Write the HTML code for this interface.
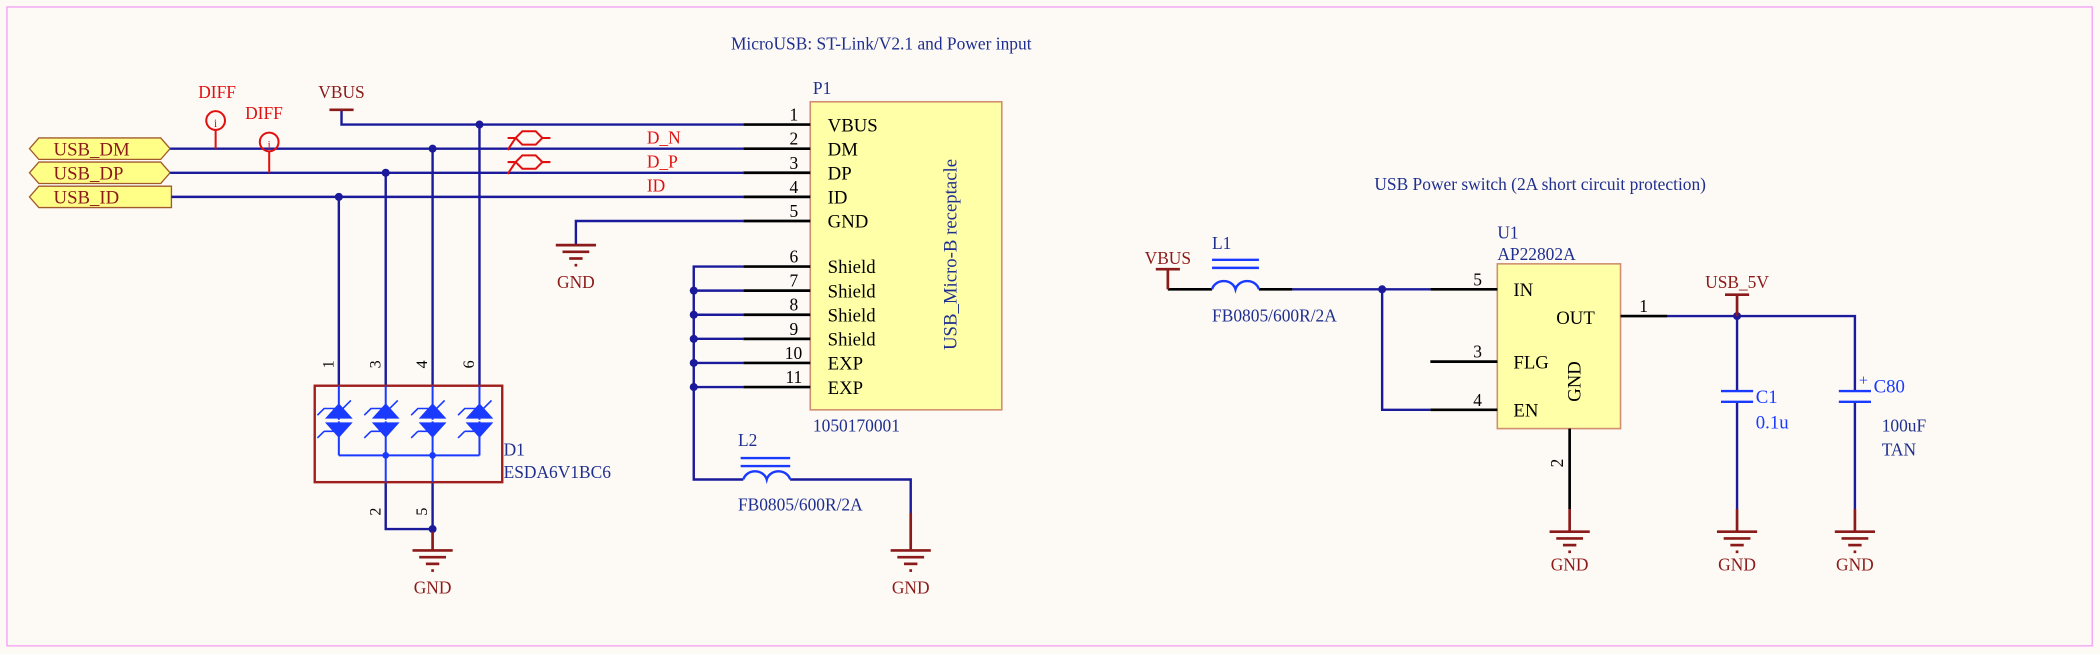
<!DOCTYPE html>
<html><head><meta charset="utf-8"><style>
html,body{margin:0;padding:0;background:#fdfaf5;}
svg{display:block}
text{font-family:"Liberation Serif",serif;}
</style></head><body>
<svg width="2100" height="654" viewBox="0 0 1568 488.3" preserveAspectRatio="none" xmlns="http://www.w3.org/2000/svg">
<defs>
<g id="gnd" stroke="#8b1a1a" stroke-width="2">
<line x1="-15" y1="0" x2="15" y2="0"/><line x1="-10" y1="5" x2="10" y2="5"/>
<line x1="-5" y1="10" x2="5" y2="10"/><line x1="-1" y1="15" x2="1" y2="15"/>
</g>
</defs>
<rect x="0" y="0" width="1568" height="488.3" fill="#fdfaf5"/>
<rect x="5.2" y="5.2" width="1557" height="477" fill="none" stroke="#f4a0f4" stroke-width="1"/>

<g fill="#1f2f8f" font-size="13">
<text x="658" y="37" text-anchor="middle">MicroUSB: ST-Link/V2.1 and Power input</text>
<text x="1150" y="142" text-anchor="middle">USB Power switch (2A short circuit protection)</text>
</g>

<g stroke="#a05a2c" stroke-width="1" fill="#ffff88">
<polygon points="22,111 29,103 120,103 127,111 120,119 29,119"/>
<polygon points="22,129 29,121 120,121 127,129 120,137 29,137"/>
<polygon points="22,147 29,139 128,139 128,155 29,155"/>
</g>
<g fill="#8b1a1a" font-size="14">
<text x="40" y="116">USB_DM</text>
<text x="40" y="134">USB_DP</text>
<text x="40" y="152">USB_ID</text>
</g>

<rect x="605" y="76" width="143" height="230" fill="#ffffa8" stroke="#d09070" stroke-width="1.2"/>
<g stroke="#000" stroke-width="2">
<line x1="555" y1="93" x2="605" y2="93"/><line x1="555" y1="111" x2="605" y2="111"/>
<line x1="555" y1="129" x2="605" y2="129"/><line x1="555" y1="147" x2="605" y2="147"/>
<line x1="555" y1="165" x2="605" y2="165"/><line x1="555" y1="199" x2="605" y2="199"/>
<line x1="555" y1="217" x2="605" y2="217"/><line x1="555" y1="235" x2="605" y2="235"/>
<line x1="555" y1="253" x2="605" y2="253"/><line x1="555" y1="271" x2="605" y2="271"/>
<line x1="555" y1="289" x2="605" y2="289"/>
</g>
<g fill="#000" font-size="13" text-anchor="end">
<text x="596" y="90">1</text><text x="596" y="108">2</text><text x="596" y="126">3</text>
<text x="596" y="144">4</text><text x="596" y="162">5</text><text x="596" y="196">6</text>
<text x="596" y="214">7</text><text x="596" y="232">8</text><text x="596" y="250">9</text>
<text x="599" y="268">10</text><text x="599" y="286">11</text>
</g>
<g fill="#000" font-size="14">
<text x="618" y="98">VBUS</text><text x="618" y="116">DM</text><text x="618" y="134">DP</text>
<text x="618" y="152">ID</text><text x="618" y="170">GND</text>
<text x="618" y="204">Shield</text><text x="618" y="222">Shield</text><text x="618" y="240">Shield</text>
<text x="618" y="258">Shield</text><text x="618" y="276">EXP</text><text x="618" y="294">EXP</text>
</g>
<text x="0" y="0" font-size="14" fill="#1f2f8f" text-anchor="middle" transform="translate(714,190) rotate(-90)">USB_Micro-B receptacle</text>
<text x="607" y="70" font-size="13" fill="#1f2f8f">P1</text>
<text x="607" y="322" font-size="13" fill="#1f2f8f">1050170001</text>

<g stroke="#1a1a9a" stroke-width="1.8" fill="none">
<polyline points="255,82 255,93 555,93"/>
<line x1="127" y1="111" x2="555" y2="111"/>
<line x1="127" y1="129" x2="555" y2="129"/>
<line x1="128" y1="147" x2="555" y2="147"/>
<polyline points="430,183 430,165 555,165"/>
<line x1="358" y1="93" x2="358" y2="288"/>
<line x1="323" y1="111" x2="323" y2="288"/>
<line x1="288" y1="129" x2="288" y2="288"/>
<line x1="253" y1="147" x2="253" y2="288"/>
<polyline points="555,199 518,199 518,358 555,358"/>
<line x1="518" y1="217" x2="555" y2="217"/><line x1="518" y1="235" x2="555" y2="235"/>
<line x1="518" y1="253" x2="555" y2="253"/><line x1="518" y1="271" x2="555" y2="271"/>
<line x1="518" y1="289" x2="555" y2="289"/>
<polyline points="590,358 680,358 680,383"/>
<polyline points="288,360 288,395 323,395 323,360"/>
</g>
<g fill="#1a1a9a">
<circle cx="358" cy="93" r="3"/><circle cx="323" cy="111" r="3"/><circle cx="288" cy="129" r="3"/>
<circle cx="253" cy="147" r="3"/><circle cx="518" cy="217" r="3"/><circle cx="518" cy="235" r="3"/>
<circle cx="518" cy="253" r="3"/><circle cx="518" cy="271" r="3"/><circle cx="518" cy="289" r="3"/>
<circle cx="323" cy="395" r="3"/>
</g>

<line x1="246" y1="82" x2="264" y2="82" stroke="#8b1a1a" stroke-width="2"/>
<text x="255" y="73" font-size="13" fill="#8b1a1a" text-anchor="middle">VBUS</text>

<g stroke="#e01010" stroke-width="1.5" fill="none">
<circle cx="161" cy="90" r="7"/><line x1="161" y1="97" x2="161" y2="111"/>
<circle cx="201" cy="106" r="7"/><line x1="201" y1="113" x2="201" y2="129"/>
<path d="M385,103 l5,-5 h10 l5,5 h6 M385,103 h-6 M385,103 l5,5 h10 l5,-5 M379,112 l6,-9"/>
<path d="M385,121 l5,-5 h10 l5,5 h6 M385,121 h-6 M385,121 l5,5 h10 l5,-5 M379,130 l6,-9"/>
</g>
<g fill="#e01010" font-size="13">
<text x="148" y="73">DIFF</text><text x="183" y="89">DIFF</text>
<text x="161" y="95" font-size="9" text-anchor="middle">i</text>
<text x="201" y="111" font-size="9" text-anchor="middle">i</text>
<text x="483" y="107">D_N</text><text x="483" y="125">D_P</text><text x="483" y="143">ID</text>
</g>

<rect x="235" y="288" width="140" height="72" fill="none" stroke="#a02020" stroke-width="1.8"/>
<g stroke="#1a3aff" stroke-width="1.5" fill="none">
<line x1="253" y1="288" x2="253" y2="340"/><line x1="288" y1="288" x2="288" y2="360"/>
<line x1="323" y1="288" x2="323" y2="360"/><line x1="358" y1="288" x2="358" y2="340"/>
<line x1="253" y1="340" x2="358" y2="340"/>
</g>
<g fill="#1a3aff" stroke="#1a3aff" stroke-width="1.2">
<g id="dd"><polygon points="244,312 262,312 253,302"/><polygon points="244,316 262,316 253,326"/>
<line x1="243" y1="314" x2="263" y2="314" stroke="#fdfaf5"/>
<path d="M237,310 l5,-5 h14 l6,-6 M242,322 h14 l6,-6 M237,327 l5,-5" fill="none"/></g>
<use href="#dd" x="35"/><use href="#dd" x="70"/><use href="#dd" x="105"/>
</g>
<g fill="#1a3aff"><circle cx="288" cy="340" r="2.5"/><circle cx="323" cy="340" r="2.5"/></g>
<g font-size="12" fill="#000">
<text transform="translate(249,275) rotate(-90)">1</text><text transform="translate(284,275) rotate(-90)">3</text>
<text transform="translate(319,275) rotate(-90)">4</text><text transform="translate(354,275) rotate(-90)">6</text>
<text transform="translate(284,385) rotate(-90)">2</text><text transform="translate(319,385) rotate(-90)">5</text>
</g>
<g fill="#1f2f8f" font-size="13"><text x="376" y="340">D1</text><text x="376" y="357">ESDA6V1BC6</text></g>

<g stroke="#1a3aff" stroke-width="1.8" fill="none">
<line x1="553" y1="342" x2="590" y2="342"/><line x1="553" y1="348" x2="590" y2="348"/>
<path d="M555,358 a9,8 0 0 1 17.5,0 a9,8 0 0 1 17.5,0"/>
</g>
<g fill="#1f2f8f" font-size="13"><text x="551" y="333">L2</text><text x="551" y="381">FB0805/600R/2A</text></g>

<use href="#gnd" x="430" y="183"/>
<g stroke="#8b1a1a" stroke-width="2"><line x1="323" y1="397" x2="323" y2="411"/><line x1="680" y1="383" x2="680" y2="411"/></g>
<use href="#gnd" x="323" y="411"/><use href="#gnd" x="680" y="411"/>
<g fill="#8b1a1a" font-size="13" text-anchor="middle">
<text x="430" y="215">GND</text><text x="323" y="443">GND</text><text x="680" y="443">GND</text>
<text x="1172" y="426">GND</text><text x="1297" y="426">GND</text><text x="1385" y="426">GND</text>
</g>

<rect x="1118" y="197" width="92" height="123" fill="#ffffa8" stroke="#d09070" stroke-width="1.2"/>
<g stroke="#000" stroke-width="2">
<line x1="1068" y1="216" x2="1118" y2="216"/><line x1="1068" y1="270" x2="1118" y2="270"/>
<line x1="1068" y1="306" x2="1118" y2="306"/><line x1="1210" y1="236" x2="1245" y2="236"/>
<line x1="1172" y1="320" x2="1172" y2="380"/><line x1="872" y1="216" x2="905" y2="216"/>
<line x1="940" y1="216" x2="965" y2="216"/>
</g>
<g stroke="#1a1a9a" stroke-width="1.8" fill="none">
<line x1="965" y1="216" x2="1068" y2="216"/>
<polyline points="1032,216 1032,306 1068,306"/>
<polyline points="1245,236 1385,236 1385,292"/>
<line x1="1297" y1="236" x2="1297" y2="292"/>
<line x1="1297" y1="300" x2="1297" y2="380"/>
<line x1="1385" y1="300" x2="1385" y2="380"/>
</g>
<g fill="#1a1a9a"><circle cx="1032" cy="216" r="3"/><circle cx="1297" cy="236" r="3"/></g>
<g stroke="#8b1a1a" stroke-width="2">
<polyline points="872,216 872,201" fill="none"/><line x1="863" y1="201" x2="881" y2="201"/>
<line x1="1297" y1="220" x2="1297" y2="236"/><line x1="1288" y1="220" x2="1306" y2="220"/>
<line x1="1172" y1="380" x2="1172" y2="397"/><line x1="1297" y1="380" x2="1297" y2="397"/>
<line x1="1385" y1="380" x2="1385" y2="397"/>
</g>
<use href="#gnd" x="1172" y="397"/><use href="#gnd" x="1297" y="397"/><use href="#gnd" x="1385" y="397"/>
<g fill="#8b1a1a" font-size="13" text-anchor="middle">
<text x="872" y="197">VBUS</text><text x="1297" y="215">USB_5V</text>
</g>
<g stroke="#1a3aff" stroke-width="1.8" fill="none">
<line x1="905" y1="194" x2="940" y2="194"/><line x1="905" y1="200" x2="940" y2="200"/>
<path d="M905,216 a9,8 0 0 1 17.5,0 a9,8 0 0 1 17.5,0"/>
<line x1="1285" y1="292" x2="1309" y2="292"/><line x1="1285" y1="300" x2="1309" y2="300"/>
<line x1="1373" y1="292" x2="1397" y2="292"/><line x1="1373" y1="300" x2="1397" y2="300"/>
</g>
<g fill="#1f2f8f" font-size="13">
<text x="905" y="186">L1</text><text x="905" y="240">FB0805/600R/2A</text>
<text x="1118" y="178">U1</text><text x="1118" y="194">AP22802A</text>
<text x="1405" y="322">100uF</text><text x="1405" y="340">TAN</text>
</g>
<g fill="#1a3aff" font-size="14">
<text x="1311" y="301">C1</text><text x="1311" y="320">0.1u</text>
<text x="1399" y="293">C80</text><text x="1388" y="288" font-size="12">+</text>
</g>
<g fill="#000" font-size="13">
<text x="1100" y="213">5</text><text x="1100" y="267">3</text><text x="1100" y="303">4</text>
<text x="1224" y="233">1</text><text transform="translate(1167,349) rotate(-90)">2</text>
</g>
<g fill="#000" font-size="14">
<text x="1130" y="221">IN</text><text x="1162" y="242">OUT</text>
<text x="1130" y="275">FLG</text><text x="1130" y="311">EN</text>
<text transform="translate(1180,300) rotate(-90)">GND</text>
</g>
</svg>
</body></html>
